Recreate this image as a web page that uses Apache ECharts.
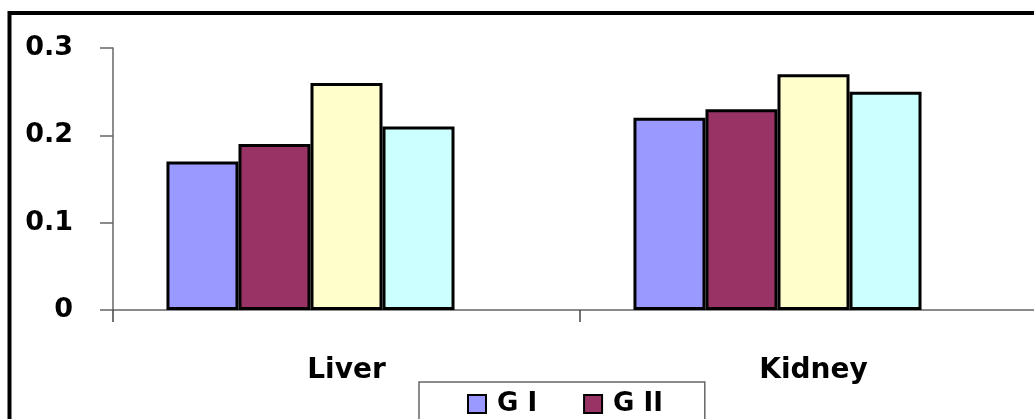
<!DOCTYPE html>
<html>
<head>
<meta charset="utf-8">
<script src="https://cdn.jsdelivr.net/npm/echarts@6/dist/echarts.min.js"></script>
<style>
  html, body { margin: 0; padding: 0; background: #fff; }
  #chart { width: 1034px; height: 419px; }
</style>
</head>
<body>
<div id="chart"></div>
<script>
// Organs on the category axis
const categories = ['Liver', 'Kidney'];

// Group names and their values per organ
const groupNames = ['G I', 'G II', 'G III', 'G IV', 'G V'];
const gI   = [0.17, 0.22];
const gII  = [0.19, 0.23];
const gIII = [0.26, 0.27];
const gIV  = [0.21, 0.25];
const gV   = [null, null];

// Value axis ticks
const yTicks = [0, 0.1, 0.2, 0.3];

const groupValues = [gI, gII, gIII, gIV, gV];
const groupColors = ['#9999FF', '#993366', '#FFFFCC', '#CCFFFF', '#660066'];

const FONT = '"DejaVu Sans", Verdana, sans-serif';

const chart = echarts.init(document.getElementById('chart'), null, { renderer: 'canvas' });

const series = groupNames.map((name, i) => ({
  name: name,
  type: 'bar',
  data: groupValues[i],
  barGap: '0%',
  barCategoryGap: '22.9%',
  itemStyle: {
    color: groupColors[i],
    borderColor: '#000',
    borderWidth: 3
  },
  emphasis: { disabled: true }
}));

chart.setOption({
  animation: false,
  backgroundColor: '#fff',
  graphic: [{
    type: 'rect',
    shape: { x: 9.5, y: 13, width: 1200, height: 600 },
    style: { fill: 'none', stroke: '#000', lineWidth: 4 },
    silent: true,
    z: 0
  }],
  // The plot runs past the right edge of the canvas
  grid: { left: 113, top: 48, width: 934, height: 262, containLabel: false, outerBoundsMode: 'none' },
  legend: {
    data: groupNames.slice(0, 4),
    left: 419,
    top: 382,
    width: 210,
    orient: 'horizontal',
    padding: [9, 42, 9, 48],
    itemGap: 46,
    itemWidth: 18,
    itemHeight: 18,
    icon: 'rect',
    borderColor: '#666',
    borderWidth: 1.5,
    backgroundColor: '#fff',
    textStyle: {
      fontFamily: FONT,
      fontWeight: 'bold',
      fontSize: 26,
      color: '#000',
      padding: [0, 0, 0, 6]
    }
  },
  xAxis: {
    type: 'category',
    data: categories,
    boundaryGap: true,
    axisLine: { show: true, lineStyle: { color: '#666', width: 1.5 } },
    axisTick: { show: true, alignWithLabel: false, length: 12, lineStyle: { color: '#444', width: 1.5 } },
    axisLabel: {
      margin: 47,
      fontFamily: FONT,
      fontWeight: 'bold',
      fontSize: 28,
      color: '#000'
    },
    splitLine: { show: false }
  },
  yAxis: {
    type: 'value',
    min: yTicks[0],
    max: yTicks[yTicks.length - 1],
    interval: yTicks[1] - yTicks[0],
    axisLine: { show: true, lineStyle: { color: '#666', width: 1.5 } },
    axisTick: { show: true, length: 13, lineStyle: { color: '#666', width: 1.5 } },
    axisLabel: {
      margin: 40,
      fontFamily: FONT,
      fontWeight: 'bold',
      fontSize: 27,
      color: '#000',
      formatter: v => String(Math.round(v * 10) / 10)
    },
    splitLine: { show: false }
  },
  series: series
});
</script>
</body>
</html>
